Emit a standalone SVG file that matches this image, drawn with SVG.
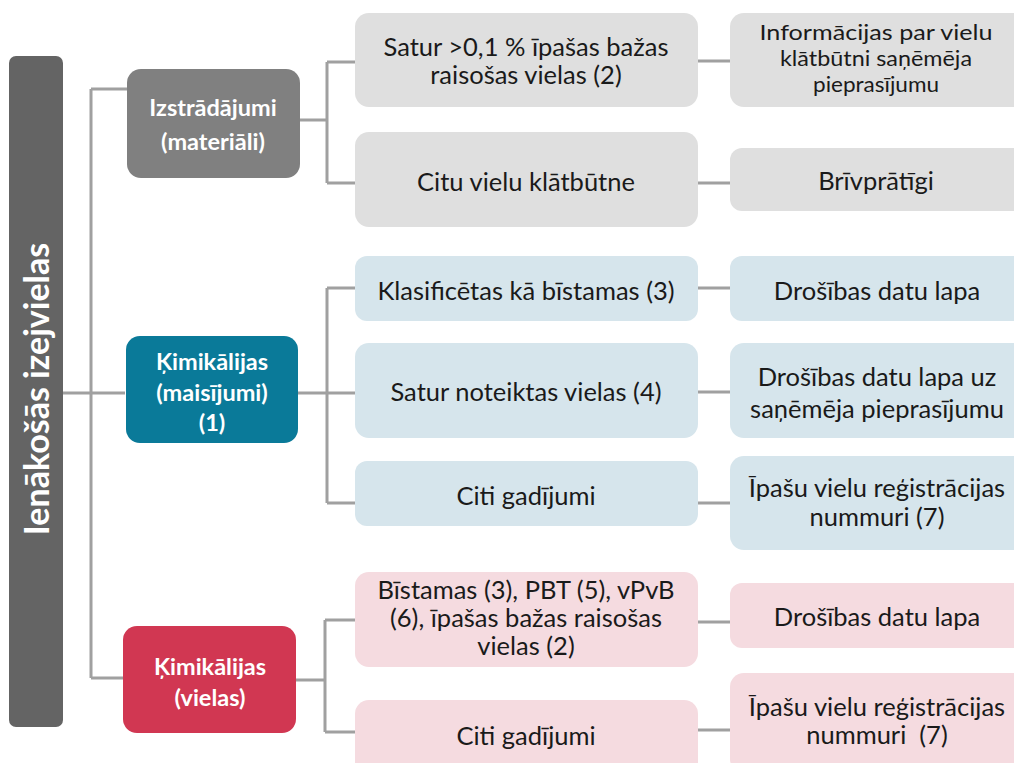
<svg xmlns="http://www.w3.org/2000/svg" width="1014" height="763" viewBox="0 0 1014 763">
<style>
.c{fill:none;stroke:#a0a0a0;stroke-width:3}
.t{font-family:Lato,"Liberation Sans",sans-serif;font-size:25.5px;fill:#1a1a1a;text-anchor:middle}
.n{font-size:21.5px}
.h{font-family:Lato,"Liberation Sans",sans-serif;font-size:23.5px;font-weight:bold;fill:#ffffff;text-anchor:middle}
.g{fill:#dfdfdf}.b{fill:#d6e5ec}.p{fill:#f5dbe0}
</style>
<rect width="1014" height="763" fill="#ffffff"/>
<g id="connectors">
<path class="c" d="M63 393H125M91 89V678M91 89H127M91 678H123"/>
<path class="c" d="M300 120H327M327 62V183M327 62H355M327 183H355M698 61H730M698 183H730"/>
<path class="c" d="M298 393H327M327 288V503M327 288H355M327 393H355M327 503H355M698 288H730M698 392H730M698 503H730"/>
<path class="c" d="M296 680H325M325 620V732M325 620H355M325 732H355M698 622H730M698 730H730"/>
</g>
<g id="root"><rect x="9" y="56" width="54" height="671" rx="7" fill="#646464"/>
<text transform="translate(49 389) rotate(-90)" font-family="Lato,'Liberation Sans',sans-serif" font-size="34" font-weight="bold" fill="#fff" text-anchor="middle">Ienākošās izejvielas</text></g>
<g id="n-izstr"><rect x="127" y="69" width="173" height="109" rx="14" fill="#808080"/>
<text class="h" x="213" y="116">Izstrādājumi</text><text class="h" x="213" y="150">(materiāli)</text></g>
<g id="n-maisij"><rect x="126" y="336" width="172" height="107" rx="14" fill="#0a7a99"/>
<text class="h" x="212" y="370">Ķimikālijas</text><text class="h" x="212" y="401">(maisījumi)</text><text class="h" x="212" y="431">(1)</text></g>
<g id="n-vielas"><rect x="123" y="626" width="173" height="107" rx="14" fill="#d13752"/>
<text class="h" x="210" y="675">Ķimikālijas</text><text class="h" x="210" y="706">(vielas)</text></g>
<g id="a1"><rect class="g" x="355" y="13" width="343" height="94" rx="14"/>
<text class="t" x="526" y="56">Satur &gt;0,1 % īpašas bažas</text><text class="t" x="526" y="84">raisošas vielas (2)</text></g>
<g id="a2"><rect class="g" x="730" y="13" width="300" height="94" rx="14"/>
<text class="t n" x="876" y="40" textLength="233" lengthAdjust="spacingAndGlyphs">Informācijas par vielu</text><text class="t n" x="876" y="66" textLength="192" lengthAdjust="spacingAndGlyphs">klātbūtni saņēmēja</text><text class="t n" x="876" y="92" textLength="126" lengthAdjust="spacingAndGlyphs">pieprasījumu</text></g>
<g id="a3"><rect class="g" x="355" y="132" width="343" height="95" rx="14"/>
<text class="t" x="526" y="191">Citu vielu klātbūtne</text></g>
<g id="a4"><rect class="g" x="730" y="148" width="300" height="63" rx="12"/>
<text class="t" x="876" y="190">Brīvprātīgi</text></g>
<g id="b1"><rect class="b" x="355" y="256" width="343" height="65" rx="12"/>
<text class="t" x="526" y="300">Klasificētas kā bīstamas (3)</text></g>
<g id="b2"><rect class="b" x="730" y="256" width="300" height="65" rx="12"/>
<text class="t" x="877" y="300">Drošības datu lapa</text></g>
<g id="b3"><rect class="b" x="355" y="343" width="343" height="95" rx="14"/>
<text class="t" x="526" y="401">Satur noteiktas vielas (4)</text></g>
<g id="b4"><rect class="b" x="730" y="343" width="300" height="95" rx="14"/>
<text class="t" x="877" y="386">Drošības datu lapa uz</text><text class="t" x="877" y="418">saņēmēja pieprasījumu</text></g>
<g id="b5"><rect class="b" x="355" y="461" width="343" height="65" rx="12"/>
<text class="t" x="526" y="505">Citi gadījumi</text></g>
<g id="b6"><rect class="b" x="730" y="456" width="300" height="94" rx="14"/>
<text class="t" x="877" y="497">Īpašu vielu reģistrācijas</text><text class="t" x="877" y="526">nummuri (7)</text></g>
<g id="c1"><rect class="p" x="355" y="572" width="343" height="95" rx="14"/>
<text class="t" x="526" y="599">Bīstamas (3), PBT (5), vPvB</text><text class="t" x="526" y="627">(6), īpašas bažas raisošas</text><text class="t" x="526" y="655">vielas (2)</text></g>
<g id="c2"><rect class="p" x="730" y="583" width="300" height="65" rx="12"/>
<text class="t" x="877" y="626">Drošības datu lapa</text></g>
<g id="c3"><rect class="p" x="355" y="700" width="343" height="80" rx="14"/>
<text class="t" x="526" y="745">Citi gadījumi</text></g>
<g id="c4"><rect class="p" x="730" y="673" width="300" height="100" rx="14"/>
<text class="t" x="877" y="716">Īpašu vielu reģistrācijas</text><text class="t" x="877" y="744" xml:space="preserve">nummuri  (7)</text></g>
</svg>
